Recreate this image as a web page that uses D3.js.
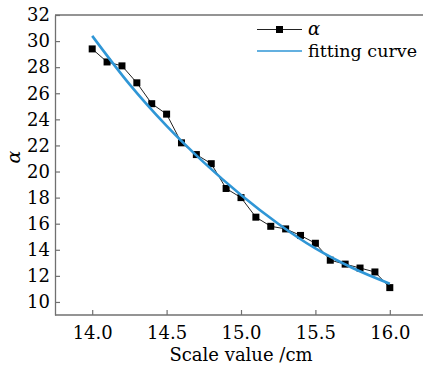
<!DOCTYPE html>
<html>
    <head>
        <script src="https://d3js.org/d3.v7.min.js"></script>
        <style>
         body { margin: 0; background: #fff; }
         svg { display: block; font-family: "DejaVu Serif", serif; }
        </style>
    </head>
    <body>
        <svg width="423" height="366"></svg>
        <script>
         // measured data
         const scaleValues = [14.0, 14.1, 14.2, 14.3, 14.4, 14.5, 14.6, 14.7, 14.8, 14.9, 15.0,
                              15.1, 15.2, 15.3, 15.4, 15.5, 15.6, 15.7, 15.8, 15.9, 16.0];
         const alphaValues = [29.4, 28.4, 28.1, 26.8, 25.2, 24.4, 22.2, 21.3, 20.6, 18.7, 18.0,
                              16.5, 15.8, 15.6, 15.1, 14.5, 13.2, 12.9, 12.6, 12.3, 11.1];

         // fitting curve
         const fitX = [14.0, 14.25, 14.5, 14.75, 15.0, 15.25, 15.5, 15.75, 16.0];
         const fitY = [30.4, 26.7, 23.5, 20.7, 18.2, 16.0, 14.1, 12.6, 11.4];

         const xTicks = [14.0, 14.5, 15.0, 15.5, 16.0];
         const yTicks = [10, 12, 14, 16, 18, 20, 22, 24, 26, 28, 30, 32];

         const svg = d3.select("svg");
         const width = +svg.attr("width");

         const margin = {top: 15, left: 55, bottom: 315};
         const axisColor = "#707070";

         const x = d3.scaleLinear().domain([13.75, 16.25]).range([margin.left, 427]);
         const y = d3.scaleLinear().domain([9, 32]).range([margin.bottom, margin.top]);

         // top frame line
         svg.append("line")
            .attr("x1", margin.left).attr("x2", width)
            .attr("y1", margin.top).attr("y2", margin.top)
            .attr("stroke", axisColor).attr("stroke-width", 1.3);

         const xAxis = svg.append("g")
            .attr("transform", `translate(0,${margin.bottom})`)
            .call(d3.axisBottom(x).tickValues(xTicks).tickFormat(d3.format(".1f"))
                    .tickSizeInner(-5).tickSizeOuter(0).tickPadding(11));

         const yAxis = svg.append("g")
            .attr("transform", `translate(${margin.left},0)`)
            .call(d3.axisLeft(y).tickValues(yTicks)
                    .tickSizeInner(-5).tickSizeOuter(0).tickPadding(5));

         [xAxis, yAxis].forEach(a => {
             a.attr("font-family", null).attr("font-size", null);
             a.select(".domain").attr("stroke", axisColor).attr("stroke-width", 1.3);
             a.selectAll(".tick line").attr("stroke", axisColor).attr("stroke-width", 1.2);
             a.selectAll(".tick text").attr("fill", "#000").style("font-size", "18px");
         });
         // extend bottom axis to the right edge
         xAxis.select(".domain").attr("d", `M${margin.left},0H${width}`);

         // axis labels
         svg.append("text")
            .attr("x", x(15.0))
            .attr("y", 361)
            .attr("text-anchor", "middle")
            .attr("fill", "#000")
            .style("font-size", "18px")
            .text("Scale value /cm");

         svg.append("text")
            .attr("transform", "translate(20,157) rotate(-90)")
            .attr("text-anchor", "middle")
            .attr("fill", "#000")
            .style("font-size", "19px")
            .style("font-style", "italic")
            .text("α");

         // data series
         const pts = scaleValues.map((v, i) => ({x: v, y: alphaValues[i]}));
         const line = d3.line().x(d => x(d.x)).y(d => y(d.y));

         svg.append("path")
            .datum(pts)
            .attr("d", line)
            .attr("fill", "none")
            .attr("stroke", "#222")
            .attr("stroke-width", 1);

         const sq = 7;
         svg.selectAll(".pt")
            .data(pts)
            .join("rect")
            .attr("class", "pt")
            .attr("x", d => x(d.x) - sq / 2)
            .attr("y", d => y(d.y) - sq / 2)
            .attr("width", sq)
            .attr("height", sq)
            .attr("fill", "#000");

         // fitting curve
         const fit = fitX.map((v, i) => ({x: v, y: fitY[i]}));
         svg.append("path")
            .datum(fit)
            .attr("d", line.curve(d3.curveMonotoneX))
            .attr("fill", "none")
            .attr("stroke", "#2f96d6")
            .attr("stroke-width", 2.6);

         // legend
         const lg = svg.append("g");
         lg.append("line")
           .attr("x1", 257).attr("x2", 302).attr("y1", 29.5).attr("y2", 29.5)
           .attr("stroke", "#222").attr("stroke-width", 1);
         lg.append("rect")
           .attr("x", 279.5 - 3.5).attr("y", 29.5 - 3.5)
           .attr("width", 7).attr("height", 7).attr("fill", "#000");
         lg.append("text")
           .attr("x", 308).attr("y", 34.5)
           .attr("fill", "#000")
           .style("font-size", "18px").style("font-style", "italic")
           .text("α");
         lg.append("line")
           .attr("x1", 257).attr("x2", 302).attr("y1", 51).attr("y2", 51)
           .attr("stroke", "#2f96d6").attr("stroke-width", 1.6);
         lg.append("text")
           .attr("x", 308).attr("y", 56.5)
           .attr("fill", "#000")
           .style("font-size", "17.5px")
           .text("fitting curve");
        </script>
    </body>
</html>
